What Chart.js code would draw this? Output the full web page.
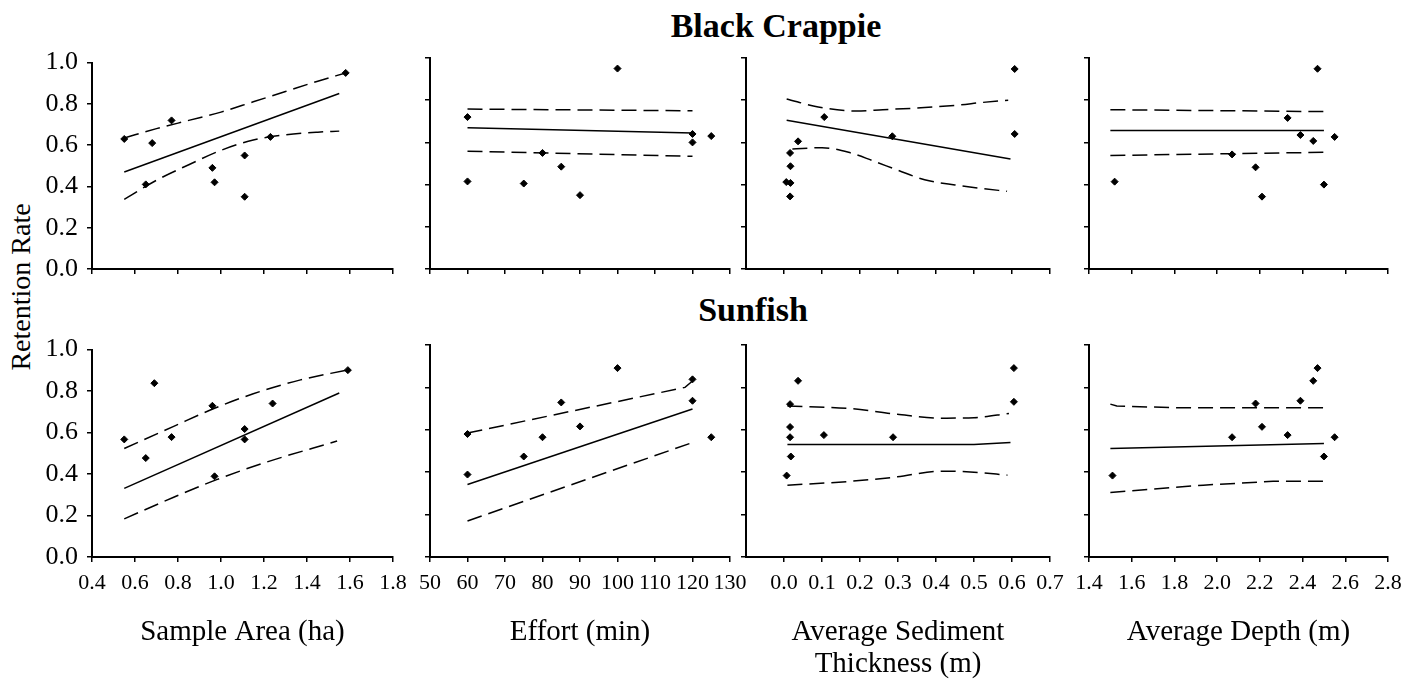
<!DOCTYPE html>
<html><head><meta charset="utf-8">
<script src="https://cdn.jsdelivr.net/npm/chart.js@4/dist/chart.umd.min.js"></script>
<style>
html,body{margin:0;padding:0;background:#fff;}
body{width:1417px;height:682px;position:relative;overflow:hidden;font-family:"Liberation Serif","Times New Roman",serif;}
canvas{position:absolute;}
.lbl{position:absolute;white-space:nowrap;color:#000;line-height:1;}
</style></head><body>
<div class="lbl" style="font-weight:bold;font-size:34px;left:776px;top:9px;transform:translateX(-50%)">Black Crappie</div>
<div class="lbl" style="font-weight:bold;font-size:34px;left:753px;top:293px;transform:translateX(-50%)">Sunfish</div>
<div class="lbl" style="font-size:28px;left:21px;top:287px;transform:translate(-50%,-50%) rotate(-90deg)">Retention Rate</div>
<canvas id="c0"></canvas><canvas id="c1"></canvas><canvas id="c2"></canvas><canvas id="c3"></canvas>
<canvas id="c4"></canvas><canvas id="c5"></canvas><canvas id="c6"></canvas><canvas id="c7"></canvas>
<script>
// ---------- tick labels ----------
const yTickValues = [0.0, 0.2, 0.4, 0.6, 0.8, 1.0];
const areaTicks = [0.4, 0.6, 0.8, 1.0, 1.2, 1.4, 1.6, 1.8];
const effortTicks = [50, 60, 70, 80, 90, 100, 110, 120, 130];
const sedimentTicks = [0.0, 0.1, 0.2, 0.3, 0.4, 0.5, 0.6, 0.7];
const depthTicks = [1.4, 1.6, 1.8, 2.0, 2.2, 2.4, 2.6, 2.8];
const xTitles = ['Sample Area (ha)', 'Effort (min)', ['Average Sediment', 'Thickness (m)'], 'Average Depth (m)'];
const rowTitles = ['Black Crappie', 'Sunfish'];

// ---------- Black Crappie ----------
const crappieAreaX = [0.55, 0.65, 0.68, 0.77, 0.96, 0.97, 1.11, 1.11, 1.23, 1.58];
const crappieAreaY = [0.63, 0.41, 0.61, 0.72, 0.49, 0.42, 0.55, 0.35, 0.64, 0.95];
const crappieAreaFitX = [0.55, 1.55];
const crappieAreaFitY = [0.47, 0.85];
const crappieAreaUpX = [0.55, 0.70, 0.85, 1.00, 1.15, 1.30, 1.45, 1.58];
const crappieAreaUpY = [0.635, 0.68, 0.72, 0.76, 0.81, 0.86, 0.91, 0.95];
const crappieAreaLoX = [0.55, 0.70, 0.85, 1.00, 1.15, 1.30, 1.45, 1.55];
const crappieAreaLoY = [0.337, 0.43, 0.505, 0.575, 0.625, 0.65, 0.663, 0.668];

const crappieEffortX = [60, 60, 75, 80, 85, 90, 100, 120, 120, 125];
const crappieEffortY = [0.72, 0.415, 0.405, 0.55, 0.485, 0.35, 0.95, 0.64, 0.60, 0.63];
const crappieEffortFitX = [60, 120];
const crappieEffortFitY = [0.67, 0.645];
const crappieEffortUpX = [60, 120];
const crappieEffortUpY = [0.758, 0.75];
const crappieEffortLoX = [60, 120];
const crappieEffortLoY = [0.558, 0.534];

const crappieSedX = [0.006, 0.017, 0.016, 0.017, 0.016, 0.037, 0.106, 0.285, 0.607, 0.607];
const crappieSedY = [0.412, 0.408, 0.344, 0.487, 0.55, 0.605, 0.72, 0.629, 0.948, 0.64];
const crappieSedFitX = [0.007, 0.596];
const crappieSedFitY = [0.705, 0.521];
const crappieSedUpX = [0.007, 0.09, 0.19, 0.26, 0.37, 0.46, 0.52, 0.59];
const crappieSedUpY = [0.806, 0.768, 0.749, 0.755, 0.765, 0.777, 0.789, 0.80];
const crappieSedLoX = [0.022, 0.10, 0.17, 0.235, 0.30, 0.37, 0.45, 0.52, 0.587];
const crappieSedLoY = [0.569, 0.575, 0.553, 0.512, 0.468, 0.423, 0.398, 0.382, 0.368];

const crappieDepthX = [1.52, 2.07, 2.18, 2.21, 2.33, 2.39, 2.45, 2.47, 2.50, 2.55];
const crappieDepthY = [0.414, 0.543, 0.482, 0.343, 0.716, 0.635, 0.607, 0.949, 0.40, 0.626];
const crappieDepthFitX = [1.5, 2.5];
const crappieDepthFitY = [0.656, 0.656];
const crappieDepthUpX = [1.5, 2.5];
const crappieDepthUpY = [0.755, 0.746];
const crappieDepthLoX = [1.5, 2.5];
const crappieDepthLoY = [0.538, 0.553];

// ---------- Sunfish ----------
const sunfishAreaX = [0.55, 0.65, 0.69, 0.77, 0.96, 0.97, 1.11, 1.11, 1.24, 1.59];
const sunfishAreaY = [0.567, 0.477, 0.838, 0.578, 0.729, 0.389, 0.617, 0.567, 0.74, 0.901];
const sunfishAreaFitX = [0.55, 1.55];
const sunfishAreaFitY = [0.331, 0.791];
const sunfishAreaUpX = [0.55, 0.78, 0.97, 1.15, 1.37, 1.58];
const sunfishAreaUpY = [0.523, 0.63, 0.717, 0.787, 0.854, 0.90];
const sunfishAreaLoX = [0.55, 0.78, 0.98, 1.21, 1.54];
const sunfishAreaLoY = [0.184, 0.288, 0.373, 0.457, 0.559];

const sunfishEffortX = [60, 60, 75, 80, 85, 90, 100, 120, 120, 125];
const sunfishEffortY = [0.58, 0.389, 0.474, 0.565, 0.729, 0.616, 0.891, 0.838, 0.737, 0.565];
const sunfishEffortFitX = [60, 120];
const sunfishEffortFitY = [0.342, 0.698];
const sunfishEffortUpX = [60, 118, 120];
const sunfishEffortUpY = [0.585, 0.80, 0.83];
const sunfishEffortLoX = [60, 120];
const sunfishEffortLoY = [0.17, 0.54];

const sunfishSedX = [0.007, 0.018, 0.016, 0.016, 0.016, 0.037, 0.105, 0.287, 0.605, 0.605];
const sunfishSedY = [0.384, 0.474, 0.565, 0.613, 0.721, 0.831, 0.575, 0.565, 0.891, 0.732];
const sunfishSedFitX = [0.009, 0.5, 0.596];
const sunfishSedFitY = [0.531, 0.531, 0.54];
const sunfishSedUpX = [0.009, 0.175, 0.298, 0.412, 0.5, 0.592];
const sunfishSedUpY = [0.712, 0.70, 0.673, 0.655, 0.657, 0.677];
const sunfishSedLoX = [0.009, 0.175, 0.298, 0.412, 0.5, 0.588];
const sunfishSedLoY = [0.339, 0.357, 0.378, 0.405, 0.40, 0.386];

const sunfishDepthX = [1.51, 2.07, 2.18, 2.21, 2.33, 2.39, 2.45, 2.47, 2.50, 2.55];
const sunfishDepthY = [0.384, 0.565, 0.724, 0.614, 0.575, 0.737, 0.831, 0.891, 0.474, 0.565];
const sunfishDepthFitX = [1.5, 2.5];
const sunfishDepthFitY = [0.512, 0.535];
const sunfishDepthUpX = [1.5, 1.53, 1.81, 2.5];
const sunfishDepthUpY = [0.721, 0.712, 0.704, 0.704];
const sunfishDepthLoX = [1.5, 1.935, 2.262, 2.5];
const sunfishDepthLoY = [0.304, 0.339, 0.357, 0.357];

// ---------- layout ----------
const COLS = [
  {left: 92, w: 301, min: 0.4, max: 1.8, ticks: areaTicks, dec: 1, pb: 34},
  {left: 430, w: 300, min: 50, max: 130, ticks: effortTicks, dec: 0, pb: 34},
  {left: 746, w: 304, min: -0.1, max: 0.7, ticks: sedimentTicks, dec: 1, pb: 2},
  {left: 1089, w: 299, min: 1.4, max: 2.8, ticks: depthTicks, dec: 1, pb: 34}
];
const ROWS = [
  {top: 58, h: 211, bottom: 30},
  {top: 345, h: 212, bottom: 125}
];
const LY = 90, PT = 20, PR = 30;
const FAM = '"Liberation Serif", "Times New Roman", serif';

const panels = [
  [crappieAreaX, crappieAreaY, crappieAreaFitX, crappieAreaFitY, crappieAreaUpX, crappieAreaUpY, crappieAreaLoX, crappieAreaLoY],
  [crappieEffortX, crappieEffortY, crappieEffortFitX, crappieEffortFitY, crappieEffortUpX, crappieEffortUpY, crappieEffortLoX, crappieEffortLoY],
  [crappieSedX, crappieSedY, crappieSedFitX, crappieSedFitY, crappieSedUpX, crappieSedUpY, crappieSedLoX, crappieSedLoY],
  [crappieDepthX, crappieDepthY, crappieDepthFitX, crappieDepthFitY, crappieDepthUpX, crappieDepthUpY, crappieDepthLoX, crappieDepthLoY],
  [sunfishAreaX, sunfishAreaY, sunfishAreaFitX, sunfishAreaFitY, sunfishAreaUpX, sunfishAreaUpY, sunfishAreaLoX, sunfishAreaLoY],
  [sunfishEffortX, sunfishEffortY, sunfishEffortFitX, sunfishEffortFitY, sunfishEffortUpX, sunfishEffortUpY, sunfishEffortLoX, sunfishEffortLoY],
  [sunfishSedX, sunfishSedY, sunfishSedFitX, sunfishSedFitY, sunfishSedUpX, sunfishSedUpY, sunfishSedLoX, sunfishSedLoY],
  [sunfishDepthX, sunfishDepthY, sunfishDepthFitX, sunfishDepthFitY, sunfishDepthUpX, sunfishDepthUpY, sunfishDepthLoX, sunfishDepthLoY]
];

const zip = (xs, ys) => xs.map((x, i) => ({x: x, y: ys[i]}));
function lineDS(xs, ys, dashed) {
  const ds = {data: zip(xs, ys), showLine: true, pointRadius: 0, borderColor: '#000',
    borderWidth: 1.5, borderDash: dashed ? [15, 7] : [], fill: false, tension: 0};
  if (xs.length > 4) ds.cubicInterpolationMode = 'monotone';
  return ds;
}
function pointDS(xs, ys) {
  return {data: zip(xs, ys), showLine: false, pointRadius: 3.5, pointStyle: 'rectRot',
    backgroundColor: '#000', borderColor: '#000', borderWidth: 1};
}
const axisCommon = {
  grid: {display: true, drawOnChartArea: false, drawTicks: true, tickLength: 5, color: '#000', lineWidth: 1.5},
  border: {display: true, color: '#000', width: 2}
};

panels.forEach((p, idx) => {
  const r = Math.floor(idx / 4), c = idx % 4;
  const row = ROWS[r], col = COLS[c];
  const cv = document.getElementById('c' + idx);
  const W = LY + col.w + PR, H = PT + row.h + row.bottom;
  cv.width = W; cv.height = H;
  cv.style.width = W + 'px'; cv.style.height = H + 'px';
  cv.style.left = (col.left - LY) + 'px';
  cv.style.top = (row.top - PT) + 'px';
  new Chart(cv, {
    type: 'scatter',
    data: {datasets: [
      lineDS(p[4], p[5], true),
      lineDS(p[6], p[7], true),
      lineDS(p[2], p[3], false),
      pointDS(p[0], p[1])
    ]},
    options: {
      responsive: false, animation: false, events: [],
      layout: {padding: {top: PT, right: PR, left: 0, bottom: 0}},
      plugins: {legend: {display: false}, tooltip: {enabled: false}, title: {display: false}},
      scales: {
        x: Object.assign({}, axisCommon, {
          type: 'linear', position: 'bottom', min: col.min, max: col.max,
          afterFit: s => { s.height = row.bottom; },
          afterBuildTicks: s => { s.ticks = col.ticks.map(v => ({value: v})); },
          ticks: {display: r === 1, autoSkip: false, maxRotation: 0, minRotation: 0, padding: 8, color: '#000',
            font: {family: FAM, size: 22}, callback: v => (Math.abs(v) < 1e-9 ? 0 : v).toFixed(col.dec)},
          title: {display: r === 1, text: xTitles[c], color: '#000',
            font: {family: FAM, size: 29, lineHeight: 1.1}, padding: {top: 0, bottom: col.pb}}
        }),
        y: Object.assign({}, axisCommon, {
          type: 'linear', position: 'left', min: 0, max: 1,
          afterFit: s => { s.width = LY; },
          afterBuildTicks: s => { s.ticks = yTickValues.map(v => ({value: v})); },
          ticks: {display: c === 0, padding: 9, color: '#000', font: {family: FAM, size: 26},
            callback: v => v.toFixed(1)}
        })
      }
    }
  });
});
</script>
</body></html>
